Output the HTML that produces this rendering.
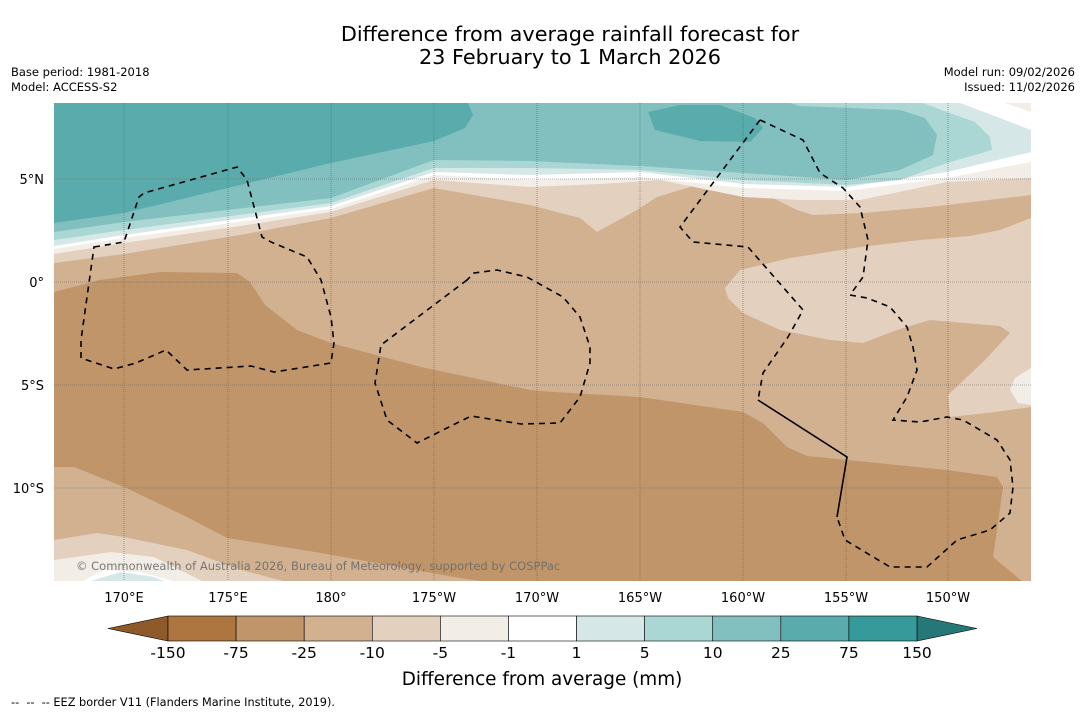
<!DOCTYPE html>
<html><head><meta charset="utf-8">
<style>
body{margin:0;background:#fff;width:1085px;height:713px;overflow:hidden;font-family:"DejaVu Sans","Liberation Sans",sans-serif;}
svg{position:absolute;left:0;top:0}
</style></head>
<body>
<svg id="chart" width="1085" height="713" viewBox="0 0 1085 713">
<g font-family="DejaVu Sans, Liberation Sans, sans-serif">
<text x="570" y="41" font-size="20.8" text-anchor="middle">Difference from average rainfall forecast for</text>
<text x="570" y="64" font-size="20.8" text-anchor="middle">23 February to 1 March 2026</text>
<text x="11" y="76" font-size="11.5">Base period: 1981-2018</text>
<text x="11" y="91" font-size="11.5">Model: ACCESS-S2</text>
<text x="1075" y="76" font-size="11.5" text-anchor="end">Model run: 09/02/2026</text>
<text x="1075" y="91" font-size="11.5" text-anchor="end">Issued: 11/02/2026</text>
</g>
<defs><clipPath id="mapclip"><rect x="54" y="103" width="977" height="478"/></clipPath></defs>
<g clip-path="url(#mapclip)">
<rect x="54" y="103" width="977" height="478" fill="#d2b190"/>
<path fill="#c0956a" d="M54,292 L100,280 L160,272 L237,273 L250,282 L265,305 L297,330 L331,343 L421,367 L530,390 L554,392 L640,397 L743,412 L763,423 L787,447 L807,456 L847,460 L947,470 L997,477 L1003,487 L997,530 L993,557 L1023,582 L487,582 L454,577 L321,553 L227,538 L187,517 L124,487 L74,467 L54,467 Z"/>
<path fill="#e3d0bf" d="M54,540 L97,533 L124,537 L187,550 L241,570 L287,582 L54,582 Z"/>
<path fill="#f2ede6" d="M54,560 L111,552 L154,557 L204,582 L54,582 Z"/>
<path fill="#ffffff" d="M81,582 L104,570 L141,572 L177,582 Z"/>
<path fill="#d5e8e7" d="M87,582 L121,572 L154,577 L167,582 Z"/>
<path fill="#e3d0bf" d="M725,288 L740,270 L790,258 L860,247 L920,240 L970,236 L1000,230 L1031,218 L1031,407 L995,412 L950,417 L948,395 L985,360 L1010,333 L1000,326 L930,320 L897,330 L863,343 L830,340 L780,330 L743,313 L728,298 Z"/>
<path fill="#f2ede6" d="M1031,368 L1015,378 L1010,390 L1018,403 L1031,405 Z"/>
<path fill="#e3d0bf" d="M54,103 L1031,103 L1031,195 L930,207 L863,213 L813,215 L797,210 L763,193 L730,183 L697,185 L657,197 L637,210 L597,232 L580,218 L530,205 L434,188 L331,218 L240,235 L124,254 L54,263 Z"/>
<path fill="#f2ede6" d="M54,103 L1031,103 L1031,178 L947,182 L860,200 L800,200 L743,197 L660,180 L600,184 L530,187 L434,180 L331,212 L240,226 L124,243 L54,254 Z"/>
<path fill="#ffffff" d="M54,103 L1031,103 L1031,162 L947,178 L847,191 L743,188 L640,177 L530,180 L434,175 L331,209 L124,238 L54,249 Z"/>
<path fill="#d5e8e7" d="M54,103 L960,103 L1000,118 L1031,130 L1031,152 L947,172 L847,187 L743,184 L640,172 L530,175 L434,172 L331,206 L124,235 L54,246 Z"/>
<path fill="#f2ede6" d="M1005,103 L1031,103 L1031,112 Z"/>
<path fill="#aad6d4" d="M54,103 L923,103 L947,112 L975,122 L990,137 L992,150 L947,163 L900,180 L847,185 L743,180 L640,170 L530,168 L434,168 L331,203 L124,230 L54,240 Z"/>
<path fill="#82c0bf" d="M54,103 L790,103 L800,106 L850,108 L900,110 L925,118 L937,135 L933,155 L900,170 L847,180 L743,173 L640,166 L530,161 L434,160 L331,198 L124,222 L54,232 Z"/>
<path fill="#5aabac" d="M54,103 L468,103 L473,115 L465,128 L434,141 L331,163 L124,213 L54,223 Z"/>
<path fill="#5aabac" d="M648,112 L680,105 L720,105 L755,118 L763,128 L750,142 L700,141 L655,130 Z"/>
<g stroke="#666" stroke-width="0.6" stroke-dasharray="1,1" fill="none">
<path d="M124,103V581M228,103V581M331,103V581M434,103V581M537,103V581M640,103V581M743,103V581M846,103V581M948,103V581"/>
<path d="M54,179H1031M54,282H1031M54,385H1031M54,488H1031"/>
</g>
<g stroke="#000" stroke-width="1.6" fill="none" stroke-dasharray="6,5">
<path d="M94,247 L124,242 L139,197 L144,193 L237,167 L247,180 L262,237 L271,242 L307,257 L321,280 L331,317 L334,343 L331,363 L287,370 L274,372 L251,366 L187,370 L166,350 L136,363 L114,369 L81,358 L81,340 Z"/>
<path d="M467,280 L381,345 L375,383 L387,420 L417,443 L471,416 L521,424 L560,423 L580,397 L590,363 L590,347 L580,317 L563,297 L527,277 L497,270 L474,273 Z"/>
<path d="M760,120 L680,227 L693,242 L748,247 L803,310 L788,337 L763,373 L758,400"/>
<path d="M760,120 L803,140 L820,173 L843,188 L860,207 L868,240 L863,277 L850,295 L867,298 L890,307 L907,327 L913,347 L917,370 L907,397 L893,420 L920,422 L947,417 L963,420 L997,440 L1010,460 L1013,487 L1010,513 L990,530 L957,540 L927,567 L890,567 L845,540 L837,517"/>
<path stroke-dasharray="none" d="M758,400 L847,457 L837,517"/>
</g>
<text x="76" y="570" font-size="11.5" fill="#6b6b6b" fill-opacity="0.9" font-family="DejaVu Sans, Liberation Sans, sans-serif">© Commonwealth of Australia 2026, Bureau of Meteorology, supported by COSPPac</text>
</g>
<g font-family="DejaVu Sans, Liberation Sans, sans-serif" font-size="13">
<g text-anchor="middle">
<text x="124" y="602">170°E</text><text x="228" y="602">175°E</text><text x="331" y="602">180°</text>
<text x="434" y="602">175°W</text><text x="537" y="602">170°W</text><text x="640" y="602">165°W</text>
<text x="743" y="602">160°W</text><text x="846" y="602">155°W</text><text x="948" y="602">150°W</text>
</g>
<g text-anchor="end">
<text x="44" y="184">5°N</text><text x="44" y="287">0°</text><text x="44" y="390">5°S</text><text x="44" y="493">10°S</text>
</g>
</g>
<g id="colorbar"></g>
<text x="542" y="685" font-size="18.4" text-anchor="middle" font-family="DejaVu Sans, Liberation Sans, sans-serif">Difference from average (mm)</text>
<text x="11" y="706" font-size="11.3" style="white-space:pre" font-family="DejaVu Sans, Liberation Sans, sans-serif">--  --  -- EEZ border V11 (Flanders Marine Institute, 2019).</text>
</svg>
<script>
const levels = ["-150","-75","-25","-10","-5","-1","1","5","10","25","75","150"];
const binColors = ["#ad7640","#c0956a","#d2b190","#e3d0bf","#f2ede6","#ffffff","#d5e8e7","#aad6d4","#82c0bf","#5aabac","#359a99"];
const extendColors = ["#8f5a2a","#267878"];
const NS="http://www.w3.org/2000/svg";
const cb=document.getElementById('colorbar');
const x0=168,x1=917,y0=616,h=25,tri=60;
const w=(x1-x0)/binColors.length;
function xAt(i){return x0+i*w;}
let lt=document.createElementNS(NS,'polygon');
lt.setAttribute('points',`${x0},${y0} ${x0-tri},${y0+h/2} ${x0},${y0+h}`);
lt.setAttribute('fill',extendColors[0]);lt.setAttribute('stroke','#000');lt.setAttribute('stroke-width','0.6');


cb.appendChild(lt);
let rt=document.createElementNS(NS,'polygon');
rt.setAttribute('points',`${x1},${y0} ${x1+tri},${y0+h/2} ${x1},${y0+h}`);
rt.setAttribute('fill',extendColors[1]);rt.setAttribute('stroke','#000');rt.setAttribute('stroke-width','0.6');


cb.appendChild(rt);
binColors.forEach((c,i)=>{
  const r=document.createElementNS(NS,'rect');
  r.setAttribute('x',xAt(i));r.setAttribute('y',y0);r.setAttribute('width',w);r.setAttribute('height',h);
  r.setAttribute('fill',c);r.setAttribute('stroke','#000');r.setAttribute('stroke-width','0.6');
  
  
  cb.appendChild(r);
});
levels.forEach((l,i)=>{
  const t=document.createElementNS(NS,'text');
  t.setAttribute('x',xAt(i));t.setAttribute('y',y0+h+17);
  t.setAttribute('text-anchor','middle');t.setAttribute('font-size','15.5');
  t.setAttribute('font-family','DejaVu Sans, Liberation Sans, sans-serif');
  t.textContent=l;
  
  
  cb.appendChild(t);
});
</script>
</body></html>
